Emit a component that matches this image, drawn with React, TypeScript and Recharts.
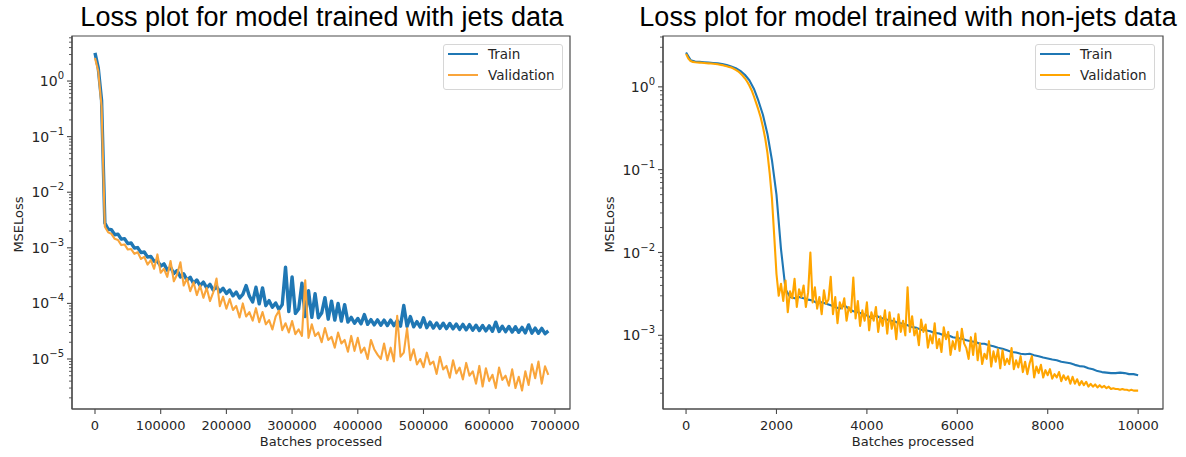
import { LineChart, Line, XAxis, YAxis, Legend, ReferenceArea } from 'recharts';

// Model trained with jets data: one point every 5000 batches (0 .. 690000)
const JETS_STEP = 5000;
const jetsTrainLoss = [
  3.2, 1.7, 0.45, 2.79e-3, 2.16e-3, 2.12e-3, 1.72e-3, 1.76e-3, 1.43e-3, 1.46e-3,
  1.19e-3, 1.22e-3, 9.9e-4, 1.01e-3, 8.2e-4, 8.4e-4, 6.8e-4, 7.0e-4, 5.7e-4, 5.8e-4,
  4.7e-4, 5.15e-4, 3.97e-4, 4.48e-4, 3.45e-4, 3.9e-4, 3.0e-4, 3.4e-4, 2.62e-4, 2.96e-4,
  2.28e-4, 2.64e-4, 2.08e-4, 2.41e-4, 1.9e-4, 2.2e-4, 1.74e-4, 2.0e-4, 1.62e-4, 1.87e-4,
  1.51e-4, 1.74e-4, 1.37e-4, 1.6e-4, 1.25e-4, 1.45e-4, 2.1e-4, 1.35e-4, 1.06e-4, 1.95e-4,
  9.8e-5, 1.9e-4, 9.1e-5, 1.12e-4, 8.5e-5, 1.02e-4, 7.8e-5, 9.5e-5, 4.5e-4, 7.1e-5,
  3.0e-4, 6.6e-5, 7.9e-5, 2.3e-4, 5.8e-5, 1.7e-4, 5.6e-5, 1.5e-4, 5.5e-5, 6.7e-5,
  1.27e-4, 5.2e-5, 1.1e-4, 5.0e-5, 1.0e-4, 4.8e-5, 9.5e-5, 4.6e-5, 5.6e-5, 4.4e-5,
  5.35e-5, 4.3e-5, 6.3e-5, 4.2e-5, 5.1e-5, 4.1e-5, 5.05e-5, 4.05e-5, 5.0e-5, 4.0e-5,
  5.0e-5, 3.98e-5, 4.9e-5, 3.9e-5, 9.2e-5, 3.85e-5, 5.8e-5, 3.8e-5, 4.7e-5, 3.75e-5,
  5.5e-5, 3.65e-5, 4.6e-5, 3.6e-5, 4.45e-5, 3.55e-5, 4.4e-5, 3.52e-5, 4.35e-5, 3.5e-5,
  4.25e-5, 3.4e-5, 4.2e-5, 3.35e-5, 4.15e-5, 3.3e-5, 4.05e-5, 3.25e-5, 4.0e-5, 3.2e-5,
  3.95e-5, 3.15e-5, 4.6e-5, 3.12e-5, 3.88e-5, 3.1e-5, 3.85e-5, 3.05e-5, 3.8e-5, 3.02e-5,
  3.7e-5, 2.95e-5, 4.1e-5, 2.92e-5, 3.6e-5, 2.9e-5, 3.55e-5, 2.85e-5, 3.2e-5,
];
const jetsValLoss = [
  2.6, 1.5, 0.35, 2.4e-3, 1.9e-3, 1.78e-3, 1.45e-3, 1.38e-3, 1.12e-3, 1.15e-3,
  9.3e-4, 9.5e-4, 7.8e-4, 8.3e-4, 6.3e-4, 6.9e-4, 5.0e-4, 6.0e-4, 4.2e-4, 7.6e-4,
  3.55e-4, 4.2e-4, 3.0e-4, 5.8e-4, 2.5e-4, 3.3e-4, 5.5e-4, 2.1e-4, 2.8e-4, 1.66e-4,
  2.4e-4, 1.41e-4, 2.1e-4, 1.26e-4, 1.9e-4, 1.1e-4, 1.58e-4, 2.8e-4, 8.9e-5, 1.32e-4,
  8.0e-5, 1.2e-4, 7.6e-5, 9.0e-5, 5.6e-5, 1.0e-4, 5.8e-5, 7.0e-5, 4.9e-5, 8.2e-5,
  4.6e-5, 7.0e-5, 4.2e-5, 5.0e-5, 3.4e-5, 5.8e-5, 7.4e-5, 3.3e-5, 4.4e-5, 3.0e-5,
  4.8e-5, 2.8e-5, 3.4e-5, 2.6e-5, 2.6e-4, 2.4e-5, 4.2e-5, 2.6e-5, 3.0e-5, 2.0e-5,
  3.6e-5, 2.2e-5, 2.5e-5, 1.6e-5, 3.0e-5, 1.9e-5, 2.2e-5, 1.35e-5, 2.6e-5, 1.4e-5,
  2.4e-5, 1.3e-5, 1.6e-5, 1.0e-5, 2.2e-5, 1.5e-5, 1.2e-5, 1.0e-5, 1.9e-5, 9.5e-6,
  1.6e-5, 9.0e-6, 6.0e-5, 1.1e-5, 1.3e-5, 3.55e-5, 9.5e-6, 1.5e-5, 8.0e-6, 1.0e-5,
  7.1e-6, 1.3e-5, 8.0e-6, 9.0e-6, 5.4e-6, 1.1e-5, 6.5e-6, 7.5e-6, 4.6e-6, 9.5e-6,
  5.5e-6, 7.0e-6, 4.3e-6, 8.5e-6, 5.0e-6, 6.0e-6, 3.6e-6, 7.5e-6, 3.2e-6, 6.8e-6,
  4.0e-6, 5.2e-6, 3.0e-6, 7.0e-6, 4.2e-6, 5.0e-6, 3.3e-6, 6.5e-6, 3.0e-6, 4.8e-6,
  2.7e-6, 6.0e-6, 3.4e-6, 8.0e-6, 4.5e-6, 9.0e-6, 3.6e-6, 7.4e-6, 5.2e-6,
];

// Model trained with non-jets data (0 .. 10000 batches)
const NONJETS_TRAIN_STEP = 100;
const nonJetsTrainLoss = [
  2.6, 2.1, 2.02, 2.0, 1.98, 1.96, 1.94, 1.92, 1.88, 1.83,
  1.76, 1.68, 1.56, 1.4, 1.2, 0.95, 0.68, 0.46, 0.27, 0.13,
  0.05, 0.011, 3.6e-3, 2.9e-3, 2.8e-3, 2.9e-3, 2.8e-3, 2.7e-3, 2.63e-3, 2.45e-3,
  2.5e-3, 2.4e-3, 2.3e-3, 2.2e-3, 2.1e-3, 2.3e-3, 2.1e-3, 1.95e-3, 1.9e-3, 1.82e-3,
  1.74e-3, 1.62e-3, 1.74e-3, 1.62e-3, 1.58e-3, 1.51e-3, 1.48e-3, 1.41e-3, 1.38e-3, 1.32e-3,
  1.26e-3, 1.23e-3, 1.17e-3, 1.15e-3, 1.12e-3, 1.07e-3, 1.05e-3, 1.0e-3, 1.0e-3, 9.5e-4,
  9.3e-4, 9.1e-4, 8.7e-4, 8.5e-4, 8.3e-4, 7.9e-4, 7.9e-4, 7.6e-4, 7.4e-4, 7.1e-4,
  6.9e-4, 6.6e-4, 6.3e-4, 6.2e-4, 6.0e-4, 5.9e-4, 6.0e-4, 5.75e-4, 5.6e-4, 5.4e-4,
  5.25e-4, 5.1e-4, 5.0e-4, 4.8e-4, 4.7e-4, 4.6e-4, 4.4e-4, 4.25e-4, 4.2e-4, 4.0e-4,
  3.9e-4, 3.7e-4, 3.6e-4, 3.55e-4, 3.5e-4, 3.5e-4, 3.55e-4, 3.5e-4, 3.4e-4, 3.4e-4,
  3.3e-4,
];
const NONJETS_VAL_STEP = 50;
const nonJetsValLoss = [
  2.5, 2.2, 2.05, 2.0, 1.98, 1.97, 1.96, 1.95, 1.94, 1.93,
  1.92, 1.91, 1.9, 1.89, 1.87, 1.85, 1.83, 1.8, 1.77, 1.74,
  1.71, 1.66, 1.6, 1.54, 1.46, 1.37, 1.27, 1.16, 1.04, 0.91,
  0.77, 0.64, 0.53, 0.43, 0.33, 0.24, 0.16, 0.09, 0.045, 0.016,
  5.5e-3, 3.0e-3, 4.2e-3, 2.6e-3, 4.6e-3, 1.9e-3, 3.4e-3, 2.8e-3, 4.8e-3, 2.2e-3,
  3.6e-3, 2.9e-3, 4.0e-3, 2.2e-3, 3.3e-3, 1.0e-2, 2.5e-3, 3.8e-3, 2.1e-3, 2.9e-3,
  1.8e-3, 3.5e-3, 2.4e-3, 2.7e-3, 5.1e-3, 1.8e-3, 2.9e-3, 1.4e-3, 2.5e-3, 2.1e-3,
  2.8e-3, 1.5e-3, 2.2e-3, 1.9e-3, 5.0e-3, 1.6e-3, 2.6e-3, 1.3e-3, 2.0e-3, 1.5e-3,
  2.5e-3, 1.15e-3, 1.9e-3, 1.5e-3, 2.2e-3, 1.1e-3, 1.7e-3, 1.3e-3, 2.0e-3, 1.05e-3,
  1.9e-3, 1.2e-3, 1.6e-3, 9.0e-4, 1.8e-3, 1.1e-3, 1.5e-3, 1.0e-3, 3.8e-3, 1.1e-3,
  1.7e-3, 1.0e-3, 1.2e-3, 7.6e-4, 1.55e-3, 1.1e-3, 1.35e-3, 7.1e-4, 1.0e-3, 8.0e-4,
  1.4e-3, 7.0e-4, 9.0e-4, 6.3e-4, 1.25e-3, 9.0e-4, 1.1e-3, 5.8e-4, 8.5e-4, 6.8e-4,
  1.1e-3, 6.5e-4, 1.2e-3, 8.0e-4, 7.0e-4, 5.2e-4, 9.5e-4, 5.8e-4, 1.05e-3, 5.0e-4,
  8.0e-4, 4.5e-4, 6.0e-4, 5.2e-4, 8.5e-4, 4.2e-4, 6.4e-4, 4.8e-4, 6.8e-4, 4.0e-4,
  6.6e-4, 4.4e-4, 5.2e-4, 4.5e-4, 7.0e-4, 3.9e-4, 5.0e-4, 4.1e-4, 5.6e-4, 3.6e-4,
  4.8e-4, 3.4e-4, 4.6e-4, 5.6e-4, 3.1e-4, 4.2e-4, 3.5e-4, 4.4e-4, 3.1e-4, 3.8e-4,
  3.3e-4, 3.9e-4, 3.0e-4, 3.4e-4, 3.1e-4, 3.6e-4, 2.8e-4, 3.3e-4, 2.9e-4, 3.2e-4,
  2.6e-4, 3.16e-4, 2.6e-4, 2.95e-4, 2.5e-4, 2.8e-4, 2.5e-4, 2.75e-4, 2.4e-4, 2.6e-4,
  2.4e-4, 2.55e-4, 2.35e-4, 2.5e-4, 2.35e-4, 2.45e-4, 2.3e-4, 2.4e-4, 2.25e-4, 2.3e-4,
  2.25e-4, 2.25e-4, 2.2e-4, 2.25e-4, 2.2e-4, 2.2e-4, 2.15e-4, 2.2e-4, 2.15e-4, 2.15e-4,
  2.15e-4,
];

// Axis ticks
const jetsXTicks = [0, 100000, 200000, 300000, 400000, 500000, 600000, 700000];
const jetsYTicks = [1e-5, 1e-4, 1e-3, 1e-2, 1e-1, 1];
const nonJetsXTicks = [0, 2000, 4000, 6000, 8000, 10000];
const nonJetsYTicks = [1e-3, 1e-2, 1e-1, 1];
const MINOR_MULTIPLES = [2, 3, 4, 5, 6, 7, 8, 9];

const TRAIN_COLOR = '#1f77b4';
const AXIS_COLOR = '#4a4a4a';
const TEXT_COLOR = '#262626';
const FONT = '"DejaVu Sans", sans-serif';

const toRows = (values: number[], step: number) =>
  values.map((loss, i) => ({ batch: i * step, loss }));

// majors plus the 2..9 minor ticks that fall inside the domain
const logTicks = (majors: number[], lo: number, hi: number) => {
  const out: number[] = [];
  const decades = [majors[0] / 10, ...majors];
  decades.forEach(d => {
    [1, ...MINOR_MULTIPLES].forEach(m => {
      const v = d * m;
      if (v >= lo && v <= hi) out.push(v);
    });
  });
  return out;
};

const LogTick = ({ x, y, payload }: any) => {
  const v = payload.value;
  const lg = Math.log10(v);
  const exp = Math.round(lg);
  if (Math.abs(lg - exp) > 1e-6) {
    return <line x1={x - 3} x2={x} y1={y} y2={y} stroke={AXIS_COLOR} strokeWidth={0.9} />;
  }
  return (
    <g>
      <line x1={x - 5} x2={x} y1={y} y2={y} stroke={AXIS_COLOR} strokeWidth={1.1} />
      <text x={x - 8} y={y + 5} textAnchor="end" fill={TEXT_COLOR} fontSize={14} fontFamily={FONT}>
        10
        <tspan dy={-7} fontSize={10}>{exp < 0 ? `\u2212${-exp}` : `${exp}`}</tspan>
      </text>
    </g>
  );
};

const BatchTick = ({ x, y, payload }: any) => (
  <g>
    <line x1={x} x2={x} y1={y} y2={y + 5} stroke={AXIS_COLOR} strokeWidth={1.1} />
    <text x={x} y={y + 21} textAnchor="middle" fill={TEXT_COLOR} fontSize={13} fontFamily={FONT}>
      {payload.value}
    </text>
  </g>
);

const xLabel = ({ viewBox }: any) => (
  <text
    x={viewBox.x + viewBox.width / 2}
    y={viewBox.y + 37}
    textAnchor="middle"
    fill={TEXT_COLOR}
    fontSize={13}
    fontFamily={FONT}
  >
    Batches processed
  </text>
);

const yLabel = ({ viewBox }: any) => {
  const cx = viewBox.x + 16;
  const cy = viewBox.y + viewBox.height / 2 + 2;
  return (
    <text
      x={cx}
      y={cy}
      transform={`rotate(-90, ${cx}, ${cy})`}
      textAnchor="middle"
      dominantBaseline="central"
      fill={TEXT_COLOR}
      fontSize={13}
      fontFamily={FONT}
    >
      MSELoss
    </text>
  );
};

const LossLegend = ({ valColor }: { valColor: string }) => (
  <div
    style={{
      width: 120,
      height: 46,
      boxSizing: 'border-box',
      border: '1px solid #d6d6d6',
      borderRadius: 3,
      background: 'rgba(255,255,255,0.85)',
    }}
  >
    <svg width={118} height={44}>
      <line x1={4} x2={34} y1={9} y2={9} stroke={TRAIN_COLOR} strokeWidth={2} />
      <text x={44} y={14} fontSize={13.5} fontFamily={FONT} fill={TEXT_COLOR}>Train</text>
      <line x1={4} x2={34} y1={30} y2={30} stroke={valColor} strokeWidth={2} />
      <text x={44} y={35} fontSize={13.5} fontFamily={FONT} fill={TEXT_COLOR}>Validation</text>
    </svg>
  </div>
);

interface PanelProps {
  left: number;
  width: number;
  margin: { top: number; right: number; bottom: number; left: number };
  xDomain: [number, number];
  yDomain: [number, number];
  xTicks: number[];
  yTicks: number[];
  train: { batch: number; loss: number }[];
  val: { batch: number; loss: number }[];
  valColor: string;
  trainWidth: number;
  legendLeft: number;
  title: string;
  titleCenter: number;
}

function LossPanel(p: PanelProps) {
  return (
    <>
      <div
        style={{
          position: 'absolute',
          left: p.titleCenter - 300,
          top: 2,
          width: 600,
          textAlign: 'center',
          fontFamily: '"Liberation Sans", Arial, sans-serif',
          fontSize: 27,
          lineHeight: '30px',
          color: '#000',
          whiteSpace: 'nowrap',
        }}
      >
        {p.title}
      </div>
      <div style={{ position: 'absolute', left: p.left, top: 0 }}>
        <LineChart width={p.width} height={457} margin={p.margin}>
          <XAxis
            xAxisId="x"
            dataKey="batch"
            type="number"
            domain={p.xDomain}
            allowDataOverflow
            ticks={p.xTicks}
            interval={0}
            tick={BatchTick}
            tickLine={false}
            tickSize={0}
            tickMargin={0}
            height={40}
            axisLine={{ stroke: AXIS_COLOR, strokeWidth: 1.2 }}
            label={xLabel}
          />
          <YAxis
            yAxisId="y"
            type="number"
            scale="log"
            domain={p.yDomain}
            allowDataOverflow
            ticks={logTicks(p.yTicks, p.yDomain[0], p.yDomain[1])}
            interval={0}
            tick={LogTick}
            tickLine={false}
            tickSize={0}
            tickMargin={0}
            width={70}
            axisLine={{ stroke: AXIS_COLOR, strokeWidth: 1.2 }}
            label={yLabel}
          />
          {/* axes frame (matplotlib spines) */}
          <ReferenceArea
            xAxisId="x"
            yAxisId="y"
            x1={p.xDomain[0]}
            x2={p.xDomain[1]}
            y1={p.yDomain[0]}
            y2={p.yDomain[1]}
            ifOverflow="visible"
            fill="none"
            fillOpacity={0}
            stroke={AXIS_COLOR}
            strokeWidth={1.2}
          />
          <Legend
            layout="vertical"
            align="center"
            verticalAlign="middle"
            wrapperStyle={{ left: p.legendLeft, top: 44, width: 120, height: 46 }}
            content={() => <LossLegend valColor={p.valColor} />}
          />
          <Line
            name="Train"
            data={p.train}
            dataKey="loss"
            xAxisId="x"
            yAxisId="y"
            type="linear"
            stroke={TRAIN_COLOR}
            strokeWidth={p.trainWidth}
            strokeLinejoin="round"
            dot={false}
            isAnimationActive={false}
          />
          <Line
            name="Validation"
            data={p.val}
            dataKey="loss"
            xAxisId="x"
            yAxisId="y"
            type="linear"
            stroke={p.valColor}
            strokeWidth={2.1}
            strokeLinejoin="round"
            dot={false}
            isAnimationActive={false}
          />
        </LineChart>
      </div>
    </>
  );
}

export default function App() {
  return (
    <div
      style={{
        position: 'absolute',
        left: 0,
        top: 0,
        width: 1186,
        height: 457,
        background: '#fff',
        overflow: 'hidden',
      }}
    >
      <LossPanel
        left={0}
        width={600}
        margin={{ top: 36, right: 30, bottom: 8, left: 2 }}
        xDomain={[-35000, 723000]}
        yDomain={[1.26e-6, 6.46]}
        xTicks={jetsXTicks}
        yTicks={jetsYTicks}
        train={toRows(jetsTrainLoss, JETS_STEP)}
        val={toRows(jetsValLoss, JETS_STEP)}
        valColor="#f9a53b"
        trainWidth={3.4}
        legendLeft={443}
        title="Loss plot for model trained with jets data"
        titleCenter={322}
      />
      <LossPanel
        left={590}
        width={596}
        margin={{ top: 36, right: 23, bottom: 8, left: 3 }}
        xDomain={[-510, 10550]}
        yDomain={[1.29e-4, 4.11]}
        xTicks={nonJetsXTicks}
        yTicks={nonJetsYTicks}
        train={toRows(nonJetsTrainLoss, NONJETS_TRAIN_STEP)}
        val={toRows(nonJetsValLoss, NONJETS_VAL_STEP)}
        valColor="#ffa500"
        trainWidth={2.1}
        legendLeft={445}
        title="Loss plot for model trained with non-jets data"
        titleCenter={908}
      />
    </div>
  );
}
